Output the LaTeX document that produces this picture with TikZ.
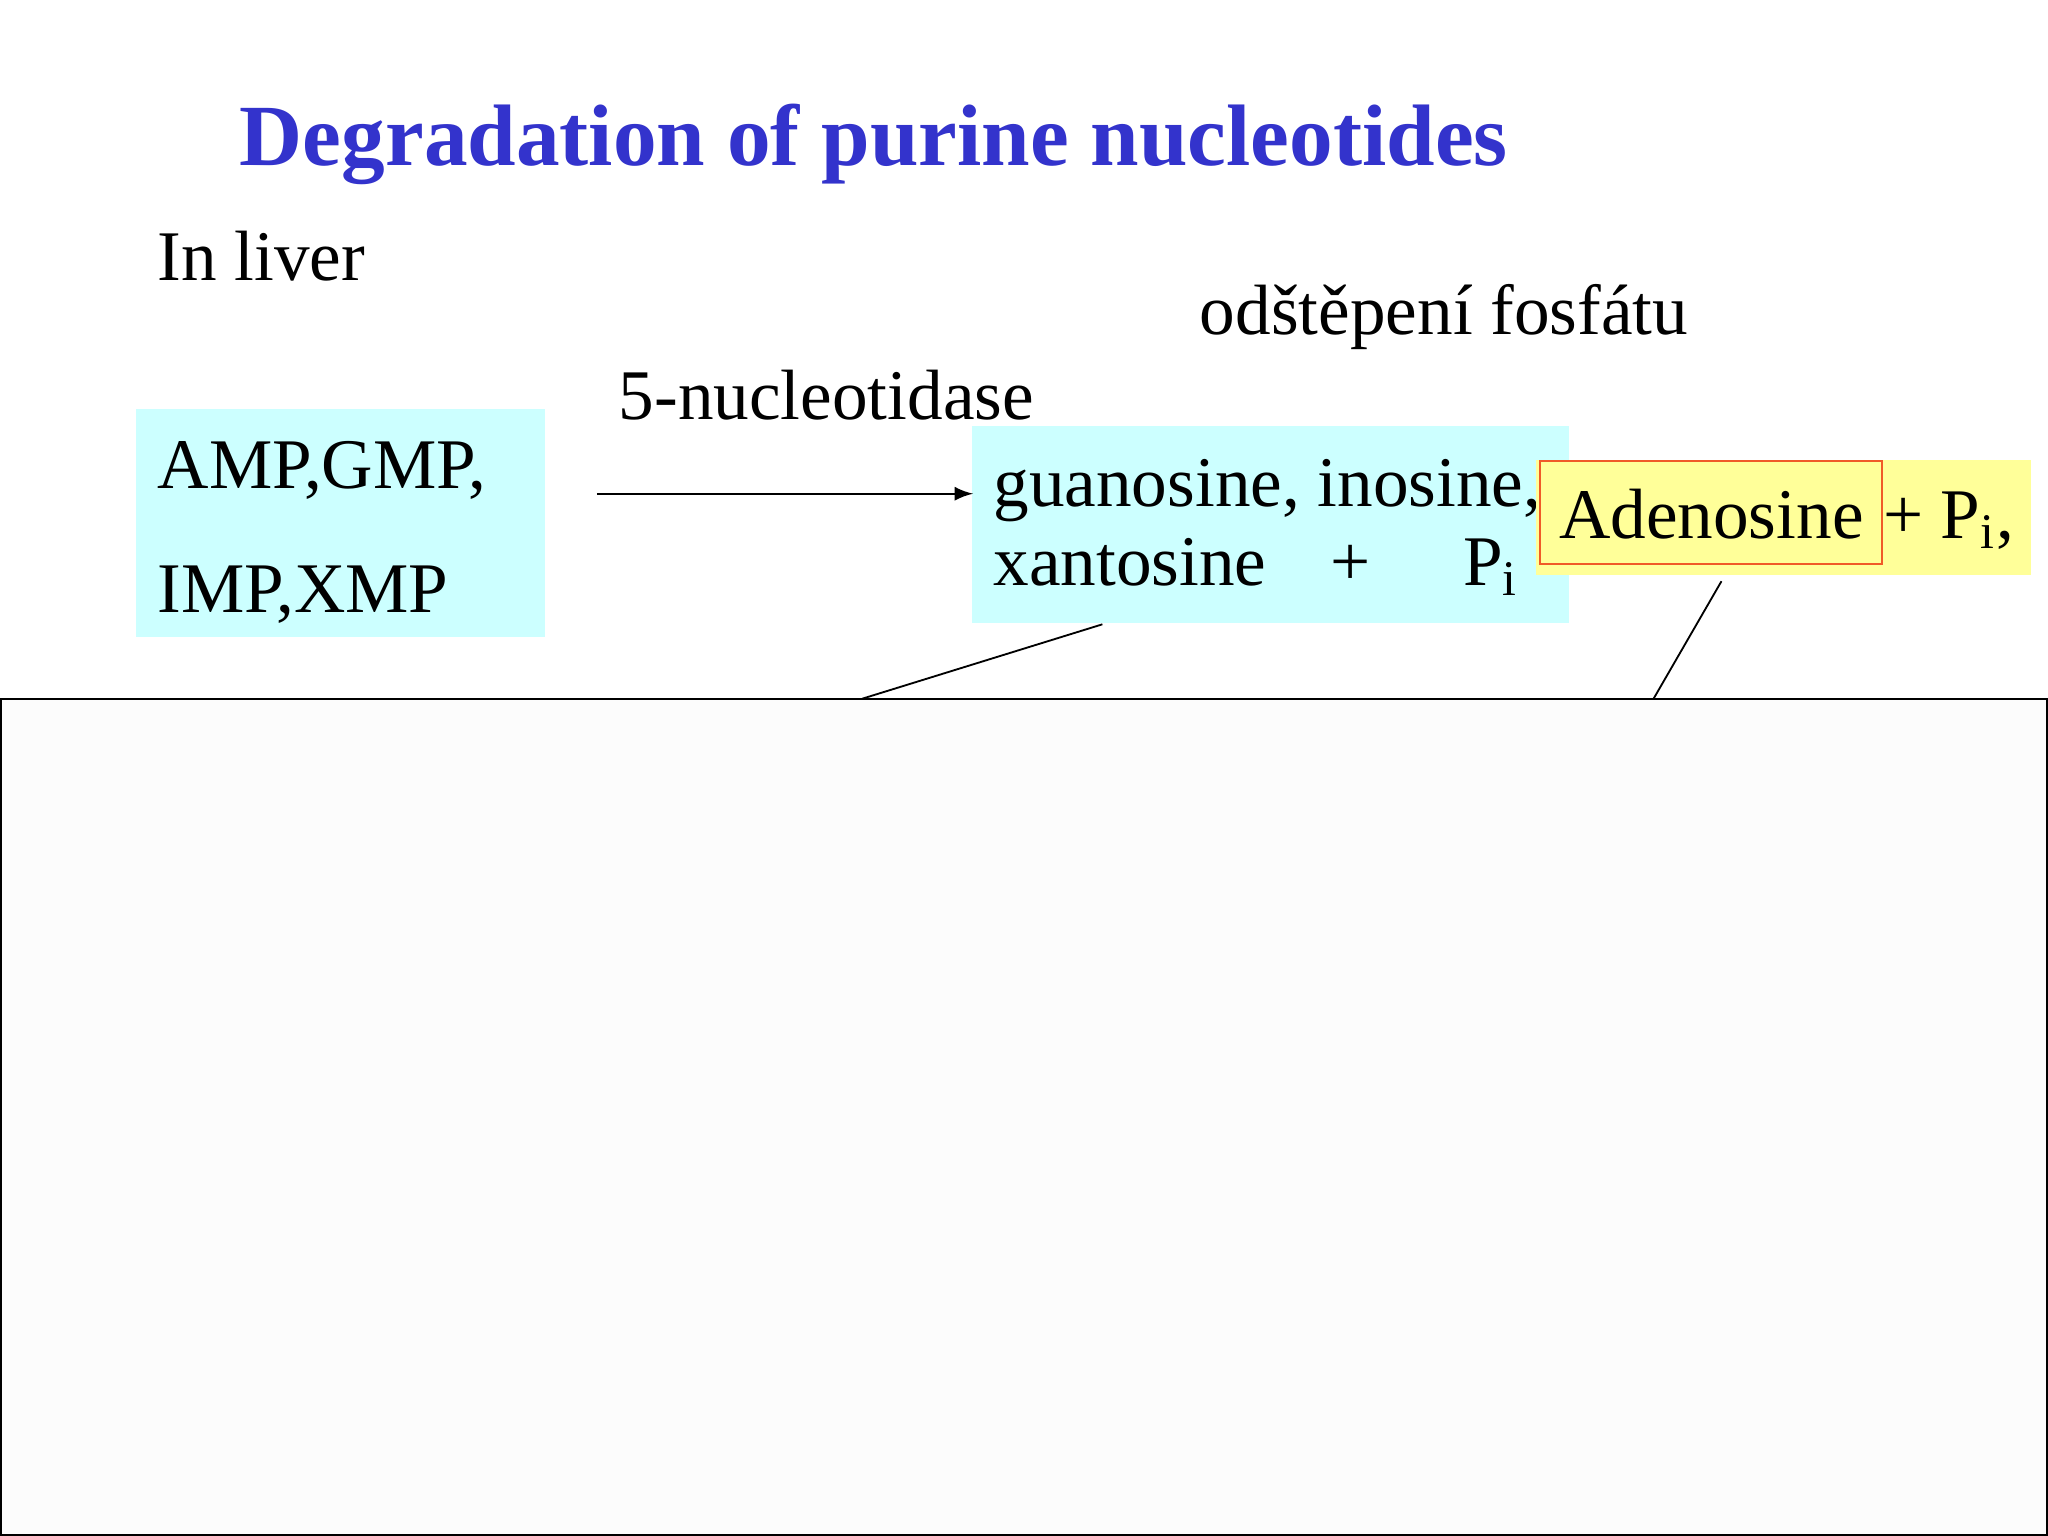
\documentclass[tikz,border=0pt]{standalone}
\usepackage{fontspec}
\setmainfont{Liberation Serif}
\definecolor{ttl}{RGB}{51,51,204}
\definecolor{cy}{RGB}{204,255,255}
\definecolor{yl}{RGB}{255,255,153}
\definecolor{org}{RGB}{240,90,40}
\begin{document}
\begin{tikzpicture}[x=0.01cm,y=-0.01cm,
  txt/.style={anchor=base west,inner sep=0pt,font=\fontsize{15.5}{18}\selectfont},
  ttlst/.style={anchor=base west,inner sep=0pt,font=\fontsize{19}{22}\selectfont\bfseries,text=ttl}]
\useasboundingbox (0,0) rectangle (1568,1176);
\fill[white] (0,0) rectangle (1568,1176);
\node[ttlst] (title) at (183,127) {Degradation of purine nucleotides};
\node[txt] (liver) at (120,215) {In liver};
\node[txt] (odst) at (918,256) {odštěpení fosfátu};
\node[txt] (nuc) at (473,321) {5-nucleotidase};
\fill[cy] (104,313) rectangle (417,488);
\node[txt] (amp) at (120,374) {AMP,GMP,};
\node[txt] (imp) at (120,469) {IMP,XMP};
\fill[cy] (744,326) rectangle (1201,477);
\node[txt] (guan) at (760,388) {guanosine, inosine,};
\node[txt] (xant) at (760,448) {xantosine\hspace{0.9em}+\hspace{1.3em}P\textsubscript{i}};
\fill[yl] (1176,352) rectangle (1555,440);
\draw[org] (1179,353) rectangle (1441,432);
\node[txt] (aden) at (1193,412) {Adenosine};
\node[txt] (pi) at (1441,412) {+ P\textsubscript{i},};
\coordinate (a1) at (457,378);
\coordinate (a2) at (745,378);
\draw[-latex] (a1) -- (a2);
\draw[fill=black!1] (0.5,535) rectangle (1567,1175.5);
\coordinate (l1) at (844,478); \coordinate (l2) at (660,535);
\coordinate (l3) at (1318,445); \coordinate (l4) at (1266,535);
\draw (l1) -- (l2);
\draw (l3) -- (l4);
\end{tikzpicture}
\end{document}
